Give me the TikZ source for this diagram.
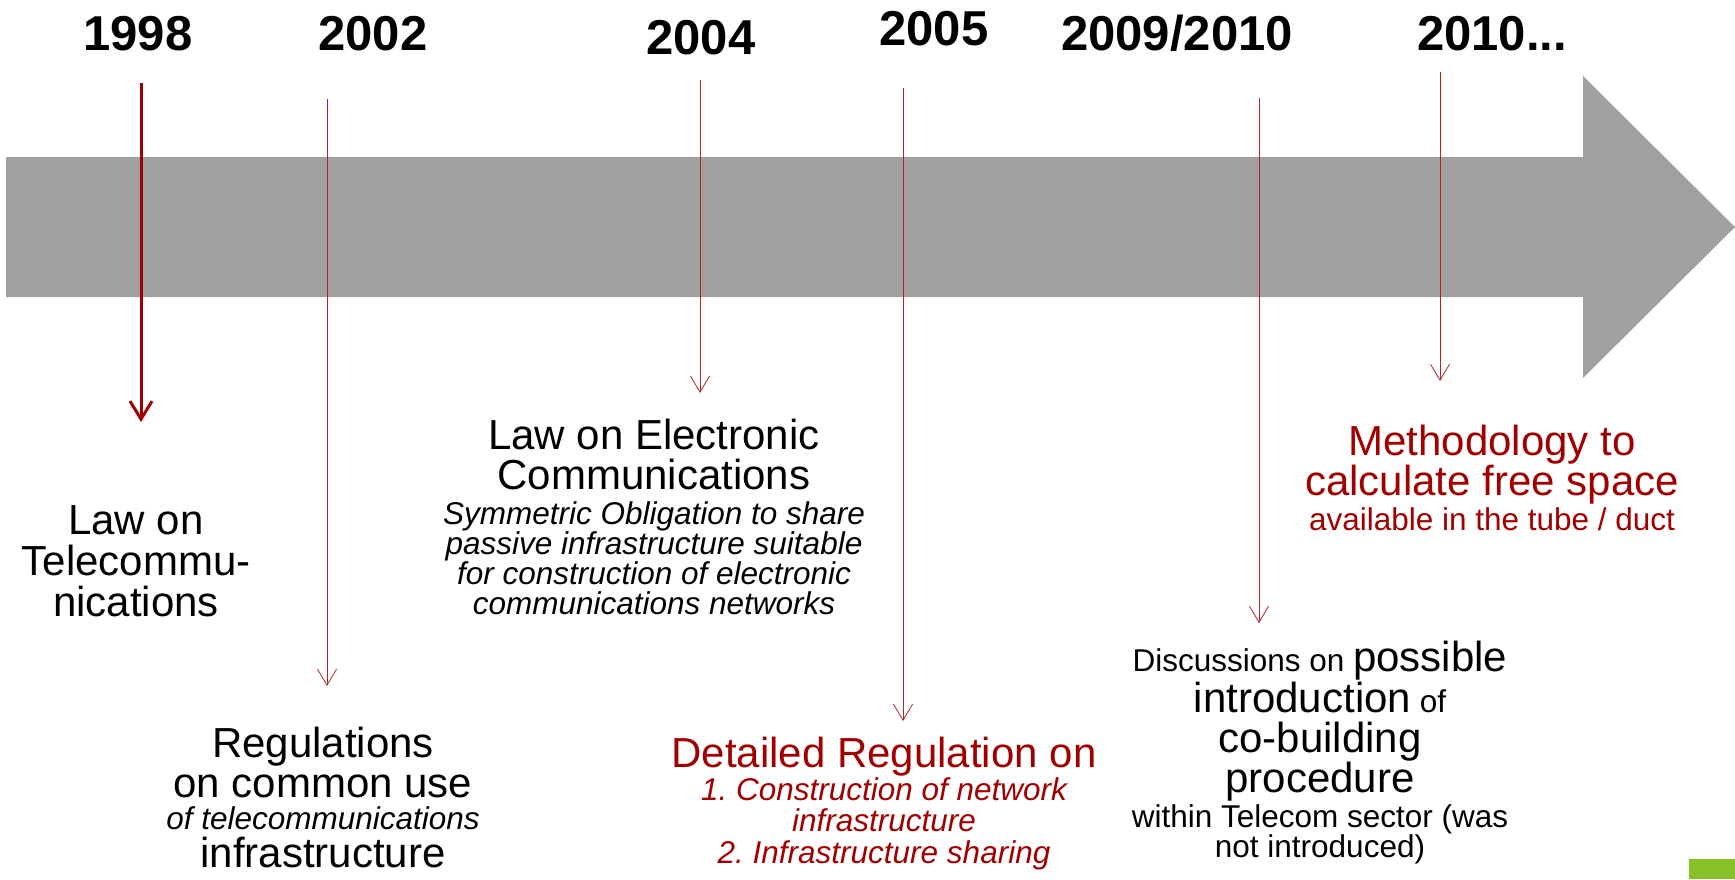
\documentclass[tikz,border=0pt]{standalone}
\usepackage{fontspec}
\setmainfont{Liberation Sans}
\usetikzlibrary{arrows.meta}
\definecolor{darkred}{RGB}{160,0,0}
\definecolor{bandgray}{RGB}{160,160,160}
\definecolor{cornergreen}{RGB}{134,193,39}
\newcommand{\smalltxt}{\fontsize{31.5}{30}\selectfont}
\newcommand{\subit}{\fontsize{31.5}{30}\selectfont\itshape}
\frenchspacing

\begin{document}
\begin{tikzpicture}[x=1pt,y=-1pt,
  year/.style={font=\fontsize{49}{55}\selectfont\bfseries,anchor=base,inner sep=0pt},
  event/.style={align=center,anchor=north,inner sep=0pt},
  thickline/.style={darkred,line width=3pt,-{Straight Barb[length=18pt,width=22pt]}},
  thinline/.style={darkred!85,line width=0.8pt,-{Straight Barb[length=16pt,width=19pt]}}]
\useasboundingbox (0,0) rectangle (1735,879);

% time band
\fill[bandgray] (6,157) -- (1583,157) -- (1583,76) -- (1735,227) -- (1583,378) -- (1583,297) -- (6,297) -- cycle;
\fill[cornergreen] (1689,859) rectangle (1735,879);

% years
\node[year] (y98) at (138,50) {1998};
\node[year] (y02) at (373,50) {2002};
\node[year] (y04) at (701,54.5) {2004};
\node[year] (y05) at (934,45.5) {2005};
\node[year] (y09) at (1177,50) {2009/2010};
\node[year] (y10) at (1492,50) {2010...};

% pointers
\coordinate (t98) at (141,83);
\coordinate (b98) at (141,422);
\draw[thickline] (t98) -- (b98);
\foreach \x/\a/\b/\n in {327/99/686/02, 700/80/393/04, 903/88/721/05, 1259/98/623/09, 1440/72/381/10} {
  \coordinate (t\n) at (\x,\a);
  \coordinate (b\n) at (\x,\b);
  \draw[thinline] (t\n) -- (b\n);
}

% events
\node[event,font=\fontsize{42}{41}\selectfont] (law98) at (136,505)
  {Law on\\Telecommu-\\nications};
\node[event,font=\fontsize{42}{40}\selectfont] (reg02) at (323,727)
  {Regulations\\on common use\\[-8pt]\subit of telecommunications\\[-2pt]infrastructure};
\node[event,font=\fontsize{42}{30}\selectfont] (law04) at (654,419)
  {Law on Electronic\\[8pt]Communications\\[5pt]\subit Symmetric Obligation to share\\
   \subit passive infrastructure suitable\\\subit for construction of electronic\\
   \subit communications networks};
\node[event,darkred,font=\fontsize{42}{31.5}\selectfont] (reg05) at (884,737)
  {Detailed Regulation on\\\subit 1. Construction of network\\\subit infrastructure\\
   \subit 2. Infrastructure sharing};
\node[event,font=\fontsize{42}{40}\selectfont] (disc09) at (1320,641)
  {{\smalltxt Discussions on }possible\\[1pt]introduction{\smalltxt\ of}\\co-building\\procedure\\[-5pt]
   \smalltxt within Telecom sector (was\\[-10pt]\smalltxt not introduced)};
\node[event,darkred,font=\fontsize{42}{38}\selectfont] (meth10) at (1492,425)
  {Methodology to\\calculate free space\\[-3pt]\smalltxt available in the tube / duct};
\end{tikzpicture}
\end{document}
